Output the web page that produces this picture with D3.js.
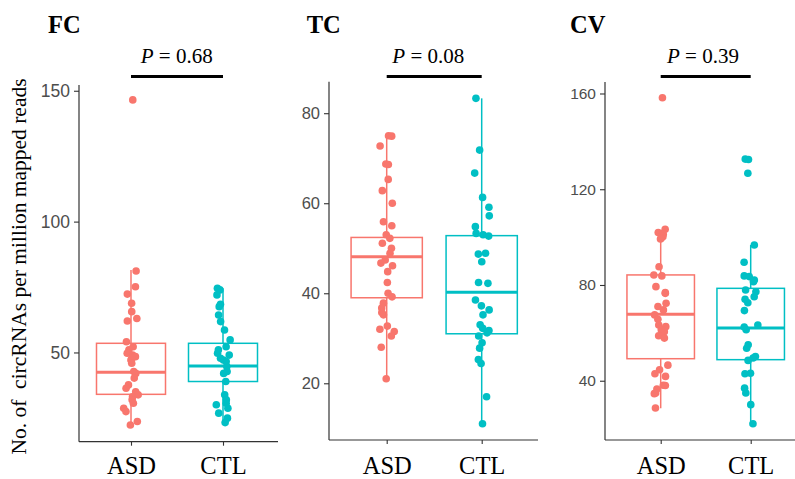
<!DOCTYPE html>
<html><head><meta charset="utf-8">
<script src="https://cdn.jsdelivr.net/npm/d3@7"></script>
<style>body{margin:0;background:#fff}</style>
</head><body><svg id="c" width="795" height="479"></svg>
<script>
// ---------- DATA ----------
const groups = ["ASD", "CTL"];
const regions = ["FC", "TC", "CV"];
const pValues = ["0.68", "0.08", "0.39"];
const yTitle = "No. of\u00a0 circRNAs per million mapped reads";

const fcTicks = [50, 100, 150];
const tcTicks = [20, 40, 60, 80];
const cvTicks = [40, 80, 120, 160];

// box stats: [lower whisker, Q1, median, Q3, upper whisker]
const fcBoxASD = [22.3, 34.0, 42.4, 53.5, 81.5];
const fcBoxCTL = [23.2, 38.9, 44.8, 53.5, 74.5];
const tcBoxASD = [21.0, 39.0, 48.1, 52.4, 75.0];
const tcBoxCTL = [11.0, 31.0, 40.2, 52.8, 83.3];
const cvBoxASD = [28.5, 49.2, 67.8, 84.2, 103.0];
const cvBoxCTL = [22.0, 48.8, 62.0, 78.6, 96.7];

// individual samples
const fcASD = [146.5, 81.1, 75.1, 72.3, 68.8, 65.6, 63.0, 62.0, 54.1, 52.2, 51.0, 49.7, 49.0, 48.4, 47.8, 47.1, 45.9, 42.7, 42.0, 40.2, 37.6, 36.3, 35.0, 33.8, 33.1, 31.9, 30.6, 28.7, 27.4, 23.6, 22.3];
const fcCTL = [74.5, 73.9, 72.0, 68.4, 67.5, 64.3, 61.8, 58.6, 54.8, 52.2, 51.0, 49.7, 49.0, 47.8, 47.1, 46.5, 44.6, 42.7, 42.0, 38.9, 33.8, 31.9, 30.6, 30.0, 28.7, 26.8, 24.9, 23.2];
const tcASD = [75.0, 74.9, 72.7, 68.7, 68.6, 65.3, 62.8, 60.0, 55.9, 55.0, 53.0, 52.2, 51.1, 50.0, 48.9, 47.4, 46.7, 46.1, 44.8, 42.4, 40.0, 39.2, 37.8, 36.7, 35.7, 35.2, 32.7, 32.0, 31.5, 30.5, 28.0, 21.0];
const tcCTL = [83.3, 71.8, 66.7, 61.3, 59.1, 57.2, 54.8, 53.3, 53.0, 52.7, 48.9, 48.7, 47.0, 42.4, 42.2, 38.5, 37.2, 36.3, 35.2, 33.0, 32.2, 31.7, 31.2, 30.5, 29.0, 27.8, 25.3, 24.4, 17.0, 11.0];
const cvASD = [158.2, 103.3, 101.9, 101.5, 101.2, 100.2, 99.5, 99.2, 87.6, 84.2, 83.8, 79.3, 76.8, 76.5, 72.4, 71.0, 69.6, 67.5, 65.7, 63.3, 62.6, 61.3, 60.5, 58.8, 57.8, 46.5, 44.6, 42.9, 41.8, 38.1, 38.0, 36.5, 34.9, 34.6, 28.6];
const cvCTL = [132.6, 132.4, 126.7, 96.7, 89.5, 83.8, 83.5, 82.1, 81.4, 77.9, 77.2, 75.1, 74.0, 72.6, 69.3, 63.3, 62.4, 61.3, 55.0, 53.6, 50.1, 49.5, 48.5, 43.1, 42.9, 36.9, 34.9, 30.0, 22.0];

// ---------- LAYOUT ----------
const colors = {ASD: "#F8766D", CTL: "#00BFC4"};
const panels = [
  {ticks: fcTicks, boxes: [fcBoxASD, fcBoxCTL], pts: [fcASD, fcCTL], dom: [15.9, 152.2], tickFs: 17.5,
   left: 79, right: 278, top: 85, bottom: 441.7, c: [131, 223], titleX: 48, pX: 176.7},
  {ticks: tcTicks, boxes: [tcBoxASD, tcBoxCTL], pts: [tcASD, tcCTL], dom: [7.4, 87.0], tickFs: 16.5,
   left: 329, right: 538, top: 81.7, bottom: 440, c: [386.7, 481.7], titleX: 306.7, pX: 428.3},
  {ticks: cvTicks, boxes: [cvBoxASD, cvBoxCTL], pts: [cvASD, cvCTL], dom: [15.24, 164.8], tickFs: 15.5,
   left: 605, right: 795, top: 82, bottom: 440, c: [660.7, 750.7], titleX: 570, pX: 703}
];

const svg = d3.select("#c");
const serif = "'Liberation Serif','Times New Roman',serif";
const sans = "'Liberation Sans',Arial,sans-serif";
const axisCol = "#333";

panels.forEach((p, i) => {
  const y = d3.scaleLinear().domain(p.dom).range([p.bottom, p.top]);
  const x = d3.scalePoint().domain(groups).range(p.c);
  const step = p.c[1] - p.c[0];
  const boxW = 0.75 * step;
  const g = svg.append("g");

  // title
  g.append("text").attr("x", p.titleX).attr("y", 33.3)
    .attr("font-family", serif).attr("font-weight", "bold").attr("font-size", 24.5)
    .attr("fill", "#000").text(regions[i]);

  // p value
  const pt = g.append("text").attr("x", p.pX).attr("y", 62.5).attr("text-anchor", "middle")
    .attr("font-family", serif).attr("font-size", 21).attr("fill", "#000");
  pt.append("tspan").attr("font-style", "italic").text("P");
  pt.append("tspan").text(" = " + pValues[i]);
  g.append("line").attr("x1", x("ASD")).attr("x2", x("CTL")).attr("y1", 76.5).attr("y2", 76.5)
    .attr("stroke", "#000").attr("stroke-width", 3);

  // y axis
  const ya = d3.axisLeft(y).tickValues(p.ticks).tickSize(5).tickPadding(4).tickFormat(d3.format("d"));
  const yg = g.append("g").attr("transform", `translate(${p.left},0)`).call(ya);
  yg.select(".domain").remove();
  yg.selectAll(".tick line").attr("stroke", axisCol).attr("stroke-width", 1.1);
  yg.selectAll(".tick text").attr("font-family", sans).attr("font-size", p.tickFs).attr("fill", "#4D4D4D");
  g.append("line").attr("x1", p.left).attr("x2", p.left).attr("y1", p.top).attr("y2", p.bottom)
    .attr("stroke", axisCol).attr("stroke-width", 1.2);

  // x axis
  const xa = d3.axisBottom(x).tickSize(4).tickPadding(8);
  const xg = g.append("g").attr("transform", `translate(0,${p.bottom})`).call(xa);
  xg.select(".domain").remove();
  xg.selectAll(".tick line").attr("stroke", axisCol).attr("stroke-width", 1.1);
  xg.selectAll(".tick text").attr("font-family", serif).attr("font-size", 24.5).attr("fill", "#000")
    .attr("dy", null).attr("y", 474 - p.bottom);
  g.append("line").attr("x1", p.left).attr("x2", p.right).attr("y1", p.bottom).attr("y2", p.bottom)
    .attr("stroke", axisCol).attr("stroke-width", 1.2);

  // boxes
  groups.forEach((grp, k) => {
    const b = p.boxes[k];
    const cx = x(grp);
    const col = colors[grp];
    g.append("line").attr("x1", cx).attr("x2", cx).attr("y1", y(b[0])).attr("y2", y(b[1]))
      .attr("stroke", col).attr("stroke-width", 1.5);
    g.append("line").attr("x1", cx).attr("x2", cx).attr("y1", y(b[3])).attr("y2", y(b[4]))
      .attr("stroke", col).attr("stroke-width", 1.5);
    g.append("rect").attr("x", cx - boxW / 2).attr("width", boxW)
      .attr("y", y(b[3])).attr("height", y(b[1]) - y(b[3]))
      .attr("fill", "#fff").attr("stroke", col).attr("stroke-width", 1.5);
    g.append("line").attr("x1", cx - boxW / 2).attr("x2", cx + boxW / 2)
      .attr("y1", y(b[2])).attr("y2", y(b[2])).attr("stroke", col).attr("stroke-width", 3);
  });

  // jittered points
  groups.forEach((grp, k) => {
    const rnd = d3.randomLcg(0.1234 + i * 0.2 + k * 0.1);
    const cx = x(grp);
    g.selectAll(null).data(p.pts[k]).enter().append("circle")
      .attr("cx", () => cx + (rnd() - 0.5) * 0.16 * step)
      .attr("cy", d => y(d)).attr("r", 3.8)
      .attr("fill", colors[grp]);
  });
});

// y title
svg.append("text").attr("transform", "translate(26,266.5) rotate(-90)")
  .attr("text-anchor", "middle").attr("font-family", serif).attr("font-size", 21.5)
  .attr("fill", "#000").text(yTitle);
</script>
</body></html>
